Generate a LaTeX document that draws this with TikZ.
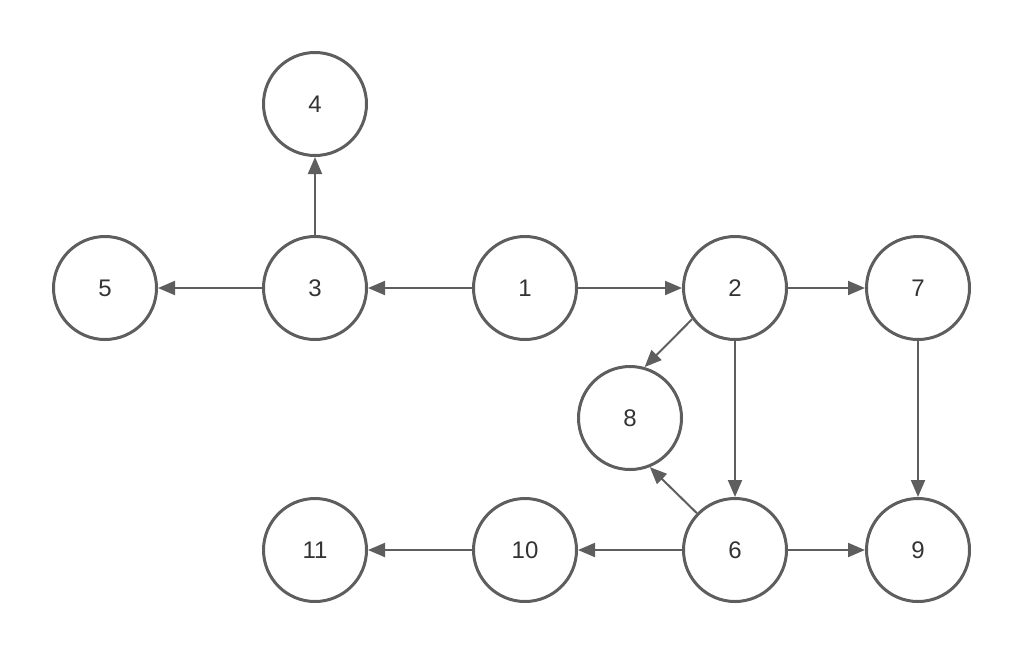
\documentclass[tikz,border=0pt]{standalone}
\usepackage{fontspec}
\setmainfont{Liberation Sans}
\usetikzlibrary{arrows.meta}
\definecolor{gline}{HTML}{5E5E5E}
\definecolor{gtext}{HTML}{333333}
\begin{document}
\begin{tikzpicture}[x=1pt,y=-1pt,
  vnode/.style={circle,draw=gline,line width=3pt,minimum size=103pt,inner sep=0pt,
    text=gtext,font=\fontsize{24}{28}\selectfont},
  edge/.style={draw=gline,line width=2pt,-{Triangle[length=17pt,width=14pt]}}]
\useasboundingbox (0,0) rectangle (1024,657);
\node[vnode] (n4) at (315,104) {4};
\node[vnode] (n5) at (105,288) {5};
\node[vnode] (n3) at (315,288) {3};
\node[vnode] (n1) at (525,288) {1};
\node[vnode] (n2) at (735,288) {2};
\node[vnode] (n7) at (918,288) {7};
\node[vnode] (n8) at (630,418) {8};
\node[vnode] (n11) at (315,550) {11};
\node[vnode] (n10) at (525,550) {10};
\node[vnode] (n6) at (735,550) {6};
\node[vnode] (n9) at (918,550) {9};
\draw[edge] (n3) -- (n4);
\draw[edge] (n3) -- (n5);
\draw[edge] (n1) -- (n3);
\draw[edge] (n1) -- (n2);
\draw[edge] (n2) -- (n7);
\draw[edge] (n2.216) -- (n8.74);
\draw[edge] (n2) -- (n6);
\draw[edge] (n7) -- (n9);
\draw[edge] (n6.136) -- (n8.-68);
\draw[edge] (n6) -- (n10);
\draw[edge] (n10) -- (n11);
\draw[edge] (n6) -- (n9);
\end{tikzpicture}
\end{document}
